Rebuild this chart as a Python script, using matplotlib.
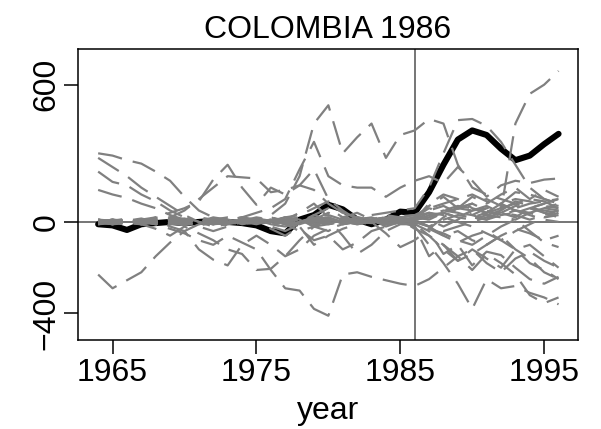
import matplotlib
matplotlib.use("Agg")
import matplotlib.pyplot as plt
import numpy as np

plt.rcParams["font.family"] = ["Liberation Sans", "DejaVu Sans"]

years = np.arange(1964, 1997)
treat_year = 1986

# gap in the treated unit (black line)
colombia = [-10, -15, -35, -10, -5, 0, -5, 0, 5, 0, -5,
            -15, -40, -50, 10, 30, 75, 55, 10, -10, 10, 45,
            40, 130, 250, 360, 400, 380, 320, 270, 290, 340, 385]

# placebo gaps (grey dashed lines)
pa = [300, 290, 270, 255, 220, 180, 110, 50, 20, 0, 10,
      15, 5, -10, 0, 20, 30, 10, 0, 10, 5, 15,
      10, 30, 40, 20, 50, 60, 40, 70, 60, 50, 40]
pb = [280, 240, 200, 150, 110, 70, 30, 0, -20, -10, 0,
      10, -10, -20, 0, 20, 10, 0, -10, 10, 20, 10,
      0, -30, -60, -90, -60, -40, -80, -120, -100, -150, -200]
pc = [220, 175, 160, 120, 90, 50, 20, 0, -10, 10, 0,
      -10, 0, 20, 10, -20, -10, 10, 0, -5, 10, 20,
      30, 60, 80, 100, 120, 90, 60, 80, 100, 90, 60]
pd = [140, 120, 105, 80, 60, 30, 10, -10, 0, 10, 0,
      0, 10, -10, -5, 10, 0, 5, -10, 0, 15, 10,
      0, -20, -40, -20, 0, 20, 40, 30, 10, 30, 50]
pe = [-230, -290, -255, -220, -150, -90, -40, -10, 10, 0, -10,
      0, 10, 0, -10, 10, 20, 0, -10, 5, 10, 0,
      10, 40, 30, 60, 80, 50, 30, 40, 60, 80, 70]
pf = [0, 10, -10, 5, 0, -5, 10, 0, 15, 5, 0,
      10, 30, 80, 200, 430, 510, 300, 370, 430, 280, 380,
      400, 450, 430, 250, 150, 120, 100, 80, 60, 40, 30]
pg = [10, 0, 5, -10, 0, 10, 5, -5, 0, 10, 20,
      40, 60, 100, 230, 350, 200, 160, 150, 150, 110, 150,
      180, 200, 170, 240, 180, 110, 160, 180, 170, 185, 190]
ph = [0, -10, 10, 0, 20, 40, 60, 90, 185, 250, 150,
      75, 150, 120, 160, 140, 80, 40, 20, 10, 30, 20,
      10, -20, -60, -40, -80, -100, -60, -30, -50, -80, -60]
pi = [0, 10, -5, 0, 10, 20, 50, 100, 150, 200, 195,
      190, 130, 140, 160, 230, 100, 50, 10, 20, 0, 10,
      20, 50, 70, 40, 30, 60, 80, 50, 40, 60, 80]
pj = [0, -10, 5, 0, -10, -30, -50, -80, -100, -60, -90,
      -120, -210, -290, -300, -380, -410, -230, -220, -240, -255, -270,
      -280, -250, -200, -150, -120, -180, -220, -160, -130, -170, -200]
pk = [0, 5, -10, 0, 10, -20, -40, -120, -165, -190, -100,
      -60, -100, -150, -120, -60, -30, -10, 0, 10, -10, 0,
      5, 30, 50, 40, 20, 10, 30, 50, 40, 20, 30]
pl = [-10, 0, 10, -10, -30, -60, -20, -50, -80, -120, -140,
      -210, -205, -150, -80, -20, -10, 0, 10, 0, -10, 5,
      10, 20, 40, 60, 80, 100, 70, 60, 80, 90, 100]
pm = [5, 0, -10, 10, 0, -10, 0, 10, 5, 0, -5,
      0, 10, -5, -20, 0, 10, -5, 0, 10, -10, 0,
      -20, -100, -180, -270, -380, -250, -290, -280, -310, -330, -360]
pn = [-5, 10, 0, -10, 5, 15, 0, -15, -5, 10, 20,
      5, -10, 0, 15, 10, -5, 10, 0, -10, 5, 10,
      -30, -60, -100, -150, -210, -140, -180, -230, -320, -355, -330]
po = [10, -5, 5, 15, 0, -10, 10, 5, -10, 0, 10,
      -5, 0, 20, 10, -10, 0, 20, 40, 10, -20, 0,
      -10, -40, -140, -100, -190, -130, -145, -200, -250, -270, -240]
pp = [-10, 5, 15, 0, -5, 10, -10, 0, 20, 10, -5,
      10, 20, 0, -30, -80, -60, -120, -90, -40, -20, 0,
      -20, -150, -100, -170, -120, -160, -200, -120, -180, -210, -250]
pq = [5, -5, 0, 10, 20, 5, -10, -5, 10, 15, 0,
      -10, 5, 20, 30, 60, 90, 40, 20, 0, -50, -110,
      -80, -30, 20, 60, 110, 80, 120, 150, 100, 140, 110]
pr = [0, 10, 5, -5, 0, 10, 15, 0, -10, 5, 10,
      0, -5, 10, 20, 5, -10, 0, 10, 20, 10, 5,
      20, 10, 40, 60, 50, 30, 50, 430, 560, 600, 660]
ps = [-5, 0, 10, 5, -10, 0, 5, 20, 10, -5, 0,
      10, 20, 5, -10, 30, 60, 20, 10, 30, 40, 50,
      60, 150, 300, 445, 450, 420, 350, 250, 150, 100, 80]
pt = [10, 0, -10, 5, 15, 0, -5, 10, 0, -15, 5,
      20, 10, -10, 5, 0, 20, 10, -5, 0, 10, 5,
      10, 20, 50, 70, 60, 40, 80, 100, 90, 70, 60]
pu = [-5, 5, 10, 0, -10, 5, 0, -20, -40, -20, 0,
      10, -30, -60, -20, -100, -60, -30, -10, 0, 5, -5,
      -10, -30, -50, -80, -100, -60, -20, 10, -40, -90, -110]
pv = [0, -10, -5, 10, 5, -5, 10, 15, 0, 10, -10,
      0, 15, 5, -10, 10, 40, 20, 0, -5, 10, 15,
      20, 60, 40, 20, 10, 30, 20, 10, 40, 60, 50]
pw = [10, 5, 0, -5, 10, 20, 10, 0, -10, -5, 10,
      0, -10, 5, 10, -20, -40, 0, 20, 10, 0, -5,
      0, -20, 10, 30, 20, 40, 60, 50, 30, 10, 0]
px = [-10, -5, 5, 10, 0, -5, -15, 0, 10, 20, 10,
      5, 0, 10, 40, 80, 20, -10, 0, 10, 20, 25,
      30, 10, -20, 10, 50, 70, 40, 20, 60, 80, 100]
py = [5, 0, -5, -10, 0, 10, 5, 10, 0, -10, -5,
      0, 10, -10, -40, -20, 10, -60, -140, -100, -40, -10,
      -10, -60, -120, -170, -140, -100, -60, -120, -160, -220, -250]
pz = [0, 5, 10, 0, -5, -10, 0, 10, 5, 0, 20,
      10, -20, -40, -10, 20, 0, 10, 5, 0, 15, 20,
      10, 80, 120, 100, 60, 40, 80, 130, 120, 100, 80]
qa = [10, -10, 0, 5, -5, 10, 0, -10, 5, 10, 0,
      -5, 10, 0, -10, 5, 15, 10, 0, 5, 10, 20,
      25, 40, 20, 0, -20, -50, -80, -40, -10, 20, 40]
qb = [-5, 0, 10, -10, 0, 5, 10, 0, -5, 0, 10,
      5, -10, -20, 0, 30, 10, -10, 5, 0, -5, 10,
      15, 70, 110, 60, 30, 10, 50, 90, 70, 40, 20]

placebos = [pa, pb, pc, pd, pe, pf, pg, ph, pi, pj, pk, pl, pm, pn,
            po, pp, pq, pr, ps, pt, pu, pv, pw, px, py, pz, qa, qb]

fig = plt.figure(figsize=(6.01, 4.29), dpi=100)
ax = fig.add_axes([0.1298, 0.2075, 0.8319, 0.6783])

ax.axhline(0, color="#505050", lw=1.1, zorder=1)
ax.axvline(treat_year, color="#505050", lw=1.1, zorder=1)

ax.plot(years, colombia, color="black", lw=4.4, zorder=2,
        solid_capstyle="round", solid_joinstyle="round")
for gap in placebos:
    ax.plot(years, gap, color="#808080", lw=1.6, dashes=(11, 5), zorder=3)

ax.set_xlim(1962.6, 1997.35)
ax.set_ylim(-516, 756)
ax.set_xticks([1965, 1975, 1985, 1995])
ax.set_yticks([-400, 0, 600])
ax.set_yticklabels(["\u2212400", "0", "600"])
ax.tick_params(axis="both", direction="out", length=10, width=1.1,
               labelsize=23)
ax.tick_params(axis="x", pad=3)
ax.tick_params(axis="y", pad=2, labelrotation=90)
plt.setp(ax.get_yticklabels(), va="center")
for s in ax.spines.values():
    s.set_linewidth(1.1)

fig.text(0.5457, 1 - 419 / 429, "year", ha="center", va="baseline",
         fontsize=23)
fig.text(0.5457, 1 - 38 / 429, "COLOMBIA 1986", ha="center",
         va="baseline", fontsize=23)

fig.savefig("out.png", dpi=100)
